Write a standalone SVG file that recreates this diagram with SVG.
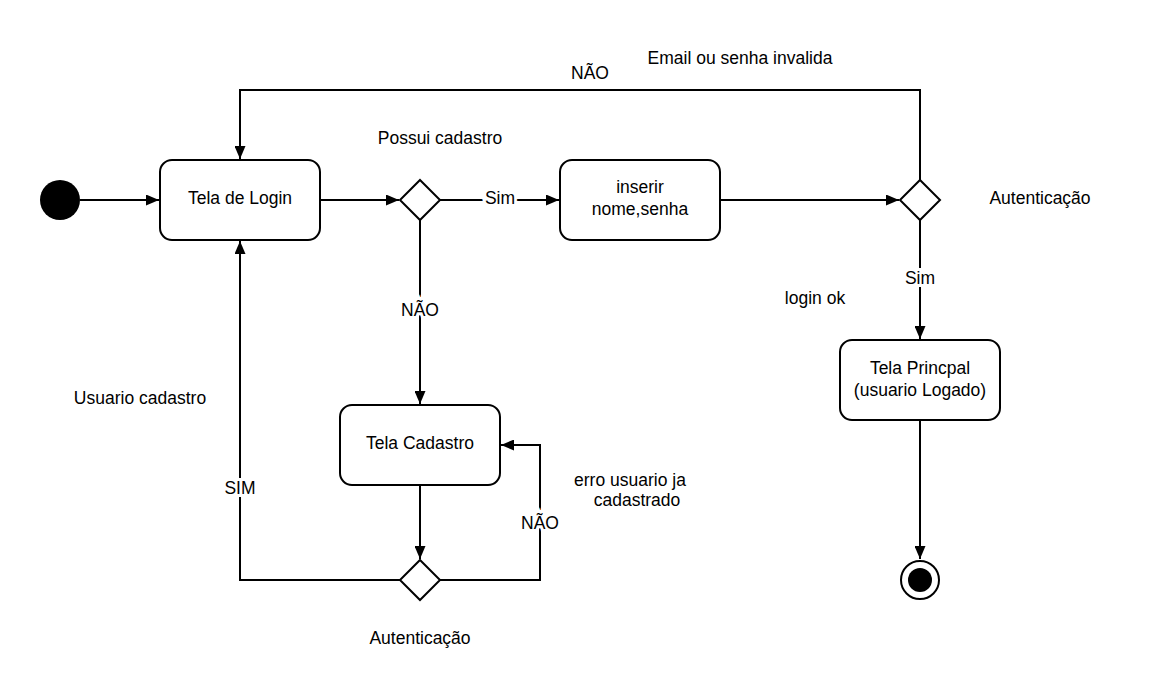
<svg xmlns="http://www.w3.org/2000/svg" width="1160" height="700" viewBox="0 0 1160 700">
<style>
.box{fill:#fff;stroke:#000;stroke-width:2}
.dia{fill:#fff;stroke:#000;stroke-width:2}
.ln{fill:none;stroke:#000;stroke-width:2}
text{font-family:"Liberation Sans",Arial,sans-serif;font-size:17.5px;fill:#000;text-anchor:middle}
.lbl{paint-order:stroke;stroke:#fff;stroke-width:6px}
</style>
<defs>
<marker id="arr" viewBox="0 0 13 11" refX="13" refY="5.5" markerWidth="13" markerHeight="11" markerUnits="userSpaceOnUse" orient="auto">
<path d="M0,0 L13,5.5 L0,11 z" fill="#000"/>
</marker>
</defs>
<rect width="1160" height="700" fill="#fff"/>
<g id="connectors">
<path class="ln" d="M80,200 H159" marker-end="url(#arr)"/>
<path class="ln" d="M320,200 H399" marker-end="url(#arr)"/>
<path class="ln" d="M440,200 H559" marker-end="url(#arr)"/>
<path class="ln" d="M720,200 H899" marker-end="url(#arr)"/>
<path class="ln" d="M920,180 V90 H240 V159" marker-end="url(#arr)"/>
<path class="ln" d="M420,220 V404" marker-end="url(#arr)"/>
<path class="ln" d="M920,220 V339" marker-end="url(#arr)"/>
<path class="ln" d="M920,420 V559" marker-end="url(#arr)"/>
<path class="ln" d="M420,485 V559" marker-end="url(#arr)"/>
<path class="ln" d="M440,580 H540 V445 H501" marker-end="url(#arr)"/>
<path class="ln" d="M400,580 H240 V241" marker-end="url(#arr)"/>
<text class="lbl" x="500" y="204">Sim</text>
<text class="lbl" x="420" y="316">NÃO</text>
<text class="lbl" x="920" y="284">Sim</text>
<text class="lbl" x="240" y="494">SIM</text>
<text class="lbl" x="540" y="529">NÃO</text>
</g>
<g id="start"><circle cx="60" cy="200" r="20" fill="#000"/></g>
<g id="tela-login"><rect class="box" x="160" y="160" width="160" height="80" rx="12"/><text x="240" y="204">Tela de Login</text></g>
<g id="decisao-cadastro"><path class="dia" d="M420,180 L440,200 L420,220 L400,200 z"/></g>
<g id="inserir"><rect class="box" x="560" y="160" width="160" height="80" rx="12"/><text x="640" y="193">inserir</text><text x="640" y="215">nome,senha</text></g>
<g id="decisao-auth"><path class="dia" d="M920,180 L940,200 L920,220 L900,200 z"/></g>
<g id="tela-principal"><rect class="box" x="840" y="340" width="160" height="80" rx="12"/><text x="920" y="374">Tela Princpal</text><text x="920" y="396">(usuario Logado)</text></g>
<g id="end"><circle cx="920" cy="580" r="19" fill="#fff" stroke="#000" stroke-width="2"/><circle cx="920" cy="580" r="12" fill="#000"/></g>
<g id="tela-cadastro"><rect class="box" x="340" y="405" width="160" height="80" rx="12"/><text x="420" y="449">Tela Cadastro</text></g>
<g id="decisao-auth2"><path class="dia" d="M420,560 L440,580 L420,600 L400,580 z"/></g>
<g id="labels">
<text x="590" y="79">NÃO</text>
<text x="740" y="64">Email ou senha invalida</text>
<text x="440" y="144">Possui cadastro</text>
<text x="1040" y="204">Autenticação</text>
<text x="815" y="304">login ok</text>
<text x="140" y="404">Usuario cadastro</text>
<text x="630" y="486">erro usuario ja</text>
<text x="637" y="506">cadastrado</text>
<text x="420" y="644">Autenticação</text>
</g>
</svg>
